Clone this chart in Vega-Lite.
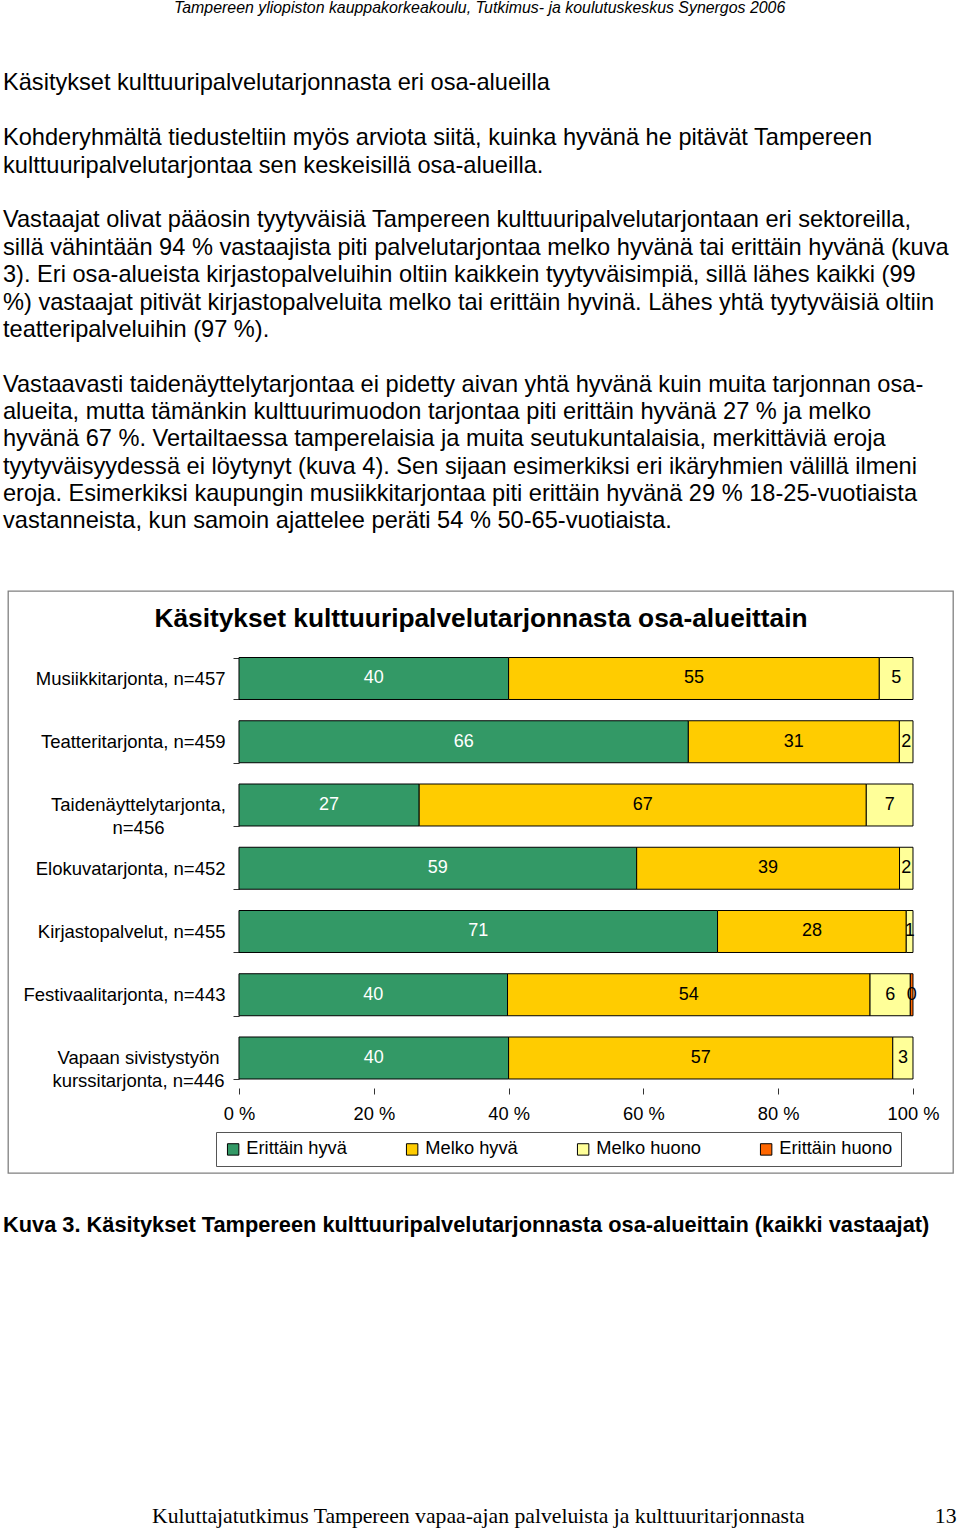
{
  "$schema": "https://vega.github.io/schema/vega-lite/v6.json",
  "padding": {"left": 2, "top": 0, "right": 0, "bottom": 0},
  "background": "white",
  "title": {
    "text": "Tampereen yliopiston kauppakorkeakoulu, Tutkimus- ja koulutuskeskus Synergos 2006",
    "font": "Liberation Sans",
    "fontStyle": "italic",
    "fontWeight": "normal",
    "fontSize": 15.9,
    "color": "black",
    "anchor": "middle",
    "frame": "bounds",
    "offset": 54
  },
  "spacing": 41,
  "vconcat": [
    {
      "width": 945,
      "height": 582,
      "title": {
        "text": "Käsitykset kulttuuripalvelutarjonnasta eri osa-alueilla",
        "subtitle": [
          "Kohderyhmältä tiedusteltiin myös arviota siitä, kuinka hyvänä he pitävät Tampereen",
          "kulttuuripalvelutarjontaa sen keskeisillä osa-alueilla.",
          "\u2800",
          "Vastaajat olivat pääosin tyytyväisiä Tampereen kulttuuripalvelutarjontaan eri sektoreilla,",
          "sillä vähintään 94 % vastaajista piti palvelutarjontaa melko hyvänä tai erittäin hyvänä (kuva",
          "3). Eri osa-alueista kirjastopalveluihin oltiin kaikkein tyytyväisimpiä, sillä lähes kaikki (99",
          "%) vastaajat pitivät kirjastopalveluita melko tai erittäin hyvinä. Lähes yhtä tyytyväisiä oltiin",
          "teatteripalveluihin (97 %).",
          "\u2800",
          "Vastaavasti taidenäyttelytarjontaa ei pidetty aivan yhtä hyvänä kuin muita tarjonnan osa-",
          "alueita, mutta tämänkin kulttuurimuodon tarjontaa piti erittäin hyvänä 27 % ja melko",
          "hyvänä 67 %. Vertailtaessa tamperelaisia ja muita seutukuntalaisia, merkittäviä eroja",
          "tyytyväisyydessä ei löytynyt (kuva 4). Sen sijaan esimerkiksi eri ikäryhmien välillä ilmeni",
          "eroja. Esimerkiksi kaupungin musiikkitarjontaa piti erittäin hyvänä 29 % 18-25-vuotiaista",
          "vastanneista, kun samoin ajattelee peräti 54 % 50-65-vuotiaista."
        ],
        "anchor": "start",
        "frame": "group",
        "dx": -5,
        "font": "Liberation Sans",
        "fontSize": 23.6,
        "fontWeight": "normal",
        "color": "black",
        "subtitleFont": "Liberation Sans",
        "subtitleFontSize": 23.6,
        "subtitleColor": "black",
        "subtitleLineHeight": 27.36,
        "subtitlePadding": 32,
        "offset": 49
      },
      "data": {
        "values": [
          {"alue": "Musiikkitarjonta, n=457", "luokka": "Erittäin hyvä", "k": 1, "pct": 40},
          {"alue": "Musiikkitarjonta, n=457", "luokka": "Melko hyvä", "k": 2, "pct": 55},
          {"alue": "Musiikkitarjonta, n=457", "luokka": "Melko huono", "k": 3, "pct": 5},
          {"alue": "Teatteritarjonta, n=459", "luokka": "Erittäin hyvä", "k": 1, "pct": 66},
          {"alue": "Teatteritarjonta, n=459", "luokka": "Melko hyvä", "k": 2, "pct": 31},
          {"alue": "Teatteritarjonta, n=459", "luokka": "Melko huono", "k": 3, "pct": 2},
          {"alue": "Taidenäyttelytarjonta, n=456", "luokka": "Erittäin hyvä", "k": 1, "pct": 27},
          {"alue": "Taidenäyttelytarjonta, n=456", "luokka": "Melko hyvä", "k": 2, "pct": 67},
          {"alue": "Taidenäyttelytarjonta, n=456", "luokka": "Melko huono", "k": 3, "pct": 7},
          {"alue": "Elokuvatarjonta, n=452", "luokka": "Erittäin hyvä", "k": 1, "pct": 59},
          {"alue": "Elokuvatarjonta, n=452", "luokka": "Melko hyvä", "k": 2, "pct": 39},
          {"alue": "Elokuvatarjonta, n=452", "luokka": "Melko huono", "k": 3, "pct": 2},
          {"alue": "Kirjastopalvelut, n=455", "luokka": "Erittäin hyvä", "k": 1, "pct": 71},
          {"alue": "Kirjastopalvelut, n=455", "luokka": "Melko hyvä", "k": 2, "pct": 28},
          {"alue": "Kirjastopalvelut, n=455", "luokka": "Melko huono", "k": 3, "pct": 1},
          {"alue": "Festivaalitarjonta, n=443", "luokka": "Erittäin hyvä", "k": 1, "pct": 40},
          {"alue": "Festivaalitarjonta, n=443", "luokka": "Melko hyvä", "k": 2, "pct": 54},
          {"alue": "Festivaalitarjonta, n=443", "luokka": "Melko huono", "k": 3, "pct": 6},
          {"alue": "Festivaalitarjonta, n=443", "luokka": "Erittäin huono", "k": 4, "pct": 0.4},
          {"alue": "Vapaan sivistystyön kurssitarjonta, n=446", "luokka": "Erittäin hyvä", "k": 1, "pct": 40},
          {"alue": "Vapaan sivistystyön kurssitarjonta, n=446", "luokka": "Melko hyvä", "k": 2, "pct": 57},
          {"alue": "Vapaan sivistystyön kurssitarjonta, n=446", "luokka": "Melko huono", "k": 3, "pct": 3}
        ]
      },
      "encoding": {
        "y": {
          "field": "alue",
          "type": "nominal",
          "sort": null,
          "scale": {
            "domain": ["\u00a0", "Musiikkitarjonta, n=457", "Teatteritarjonta, n=459", "Taidenäyttelytarjonta, n=456", "Elokuvatarjonta, n=452", "Kirjastopalvelut, n=455", "Festivaalitarjonta, n=443", "Vapaan sivistystyön kurssitarjonta, n=446", "\u00a0\u00a0"],
            "paddingInner": 0.336,
            "paddingOuter": 0.2688,
            "align": 0.0956,
            "round": false
          },
          "axis": {
            "orient": "left",
            "offset": -231,
            "values": ["Musiikkitarjonta, n=457", "Teatteritarjonta, n=459", "Taidenäyttelytarjonta, n=456", "Elokuvatarjonta, n=452", "Kirjastopalvelut, n=455", "Festivaalitarjonta, n=443", "Vapaan sivistystyön kurssitarjonta, n=446"],
            "title": null,
            "domain": false,
            "grid": false,
            "tickBand": "extent",
            "tickSize": 6,
            "tickColor": "#333",
            "labelFont": "Liberation Sans",
            "labelFontSize": 18.5,
            "labelColor": "black",
            "labelLimit": 400,
            "labelLineHeight": 23,
            "labelExpr": "datum.value == 'Taidenäyttelytarjonta, n=456' ? ['Taidenäyttelytarjonta,', 'n=456'] : datum.value == 'Vapaan sivistystyön kurssitarjonta, n=446' ? ['Vapaan sivistystyön', 'kurssitarjonta, n=446'] : datum.label",
            "labelAlign": {"condition": {"test": "datum.value == 'Taidenäyttelytarjonta, n=456' || datum.value == 'Vapaan sivistystyön kurssitarjonta, n=446'", "value": "center"}, "value": "right"},
            "labelPadding": {"condition": {"test": "datum.value == 'Taidenäyttelytarjonta, n=456' || datum.value == 'Vapaan sivistystyön kurssitarjonta, n=446'", "value": 95}, "value": 8}
          }
        }
      },
      "layer": [
        {
          "mark": {"type": "bar", "stroke": "black", "strokeWidth": 1},
          "encoding": {
            "x": {
              "field": "pct",
              "type": "quantitative",
              "stack": "normalize",
              "scale": {"domain": [-0.34273, 1.05935], "nice": false, "zero": false},
              "axis": {
                "orient": "bottom",
                "offset": -85,
                "values": [0, 0.2, 0.4, 0.6, 0.8, 1],
                "labelExpr": "round(datum.value * 100) + ' %'",
                "title": null,
                "domain": false,
                "grid": false,
                "tickSize": 6,
                "tickColor": "#333",
                "labelFont": "Liberation Sans",
                "labelFontSize": 18.3,
                "labelColor": "black",
                "labelPadding": 11,
                "labelOverlap": false,
                "labelFlush": false
              }
            },
            "color": {
              "field": "luokka",
              "type": "nominal",
              "scale": {
                "domain": ["Erittäin hyvä", "Melko hyvä", "Melko huono", "Erittäin huono"],
                "range": ["#339966", "#ffcc00", "#ffff99", "#ff6600"]
              },
              "legend": {
                "orient": "none",
                "legendX": 208,
                "legendY": 541,
                "direction": "horizontal",
                "title": null,
                "symbolType": "square",
                "symbolSize": 130,
                "symbolStrokeColor": "black",
                "symbolStrokeWidth": 1,
                "labelFont": "Liberation Sans",
                "labelFontSize": 18.3,
                "labelColor": "black",
                "labelOffset": 4,
                "columnPadding": 56,
                "padding": 8,
                "strokeColor": "#555"
              }
            },
            "order": {"field": "k", "type": "quantitative"}
          }
        },
        {
          "mark": {"type": "text", "font": "Liberation Sans", "fontSize": 18, "baseline": "middle", "align": "center"},
          "encoding": {
            "x": {
              "field": "pct",
              "type": "quantitative",
              "stack": "normalize",
              "bandPosition": 0.5,
              "axis": {
                "orient": "top",
                "title": "Käsitykset kulttuuripalvelutarjonnasta osa-alueittain",
                "titleFont": "Liberation Sans",
                "titleFontSize": 26.3,
                "titleFontWeight": "bold",
                "titleColor": "black",
                "titleAnchor": "middle",
                "titleBaseline": "alphabetic",
                "titleY": 35,
                "labels": false,
                "ticks": false,
                "domain": false,
                "grid": false
              }
            },
            "detail": {"field": "luokka"},
            "order": {"field": "k", "type": "quantitative"},
            "text": {"field": "pct", "type": "quantitative", "format": ".0f"},
            "color": {"condition": {"test": "datum.luokka == 'Erittäin hyvä'", "value": "white"}, "value": "black"}
          }
        }
      ],
      "resolve": {"axis": {"x": "independent"}}
    },
    {
      "width": 945,
      "height": 228,
      "data": {"values": []},
      "mark": "point",
      "encoding": {},
      "view": {"stroke": null},
      "title": {
        "text": "Kuva 3. Käsitykset Tampereen kulttuuripalvelutarjonnasta osa-alueittain (kaikki vastaajat)",
        "anchor": "start",
        "frame": "group",
        "dx": -5,
        "font": "Liberation Sans",
        "fontSize": 21.8,
        "fontWeight": "bold",
        "color": "black",
        "offset": 0
      }
    },
    {
      "width": 945,
      "height": 1,
      "data": {"values": []},
      "mark": "point",
      "encoding": {},
      "view": {"stroke": null},
      "title": {
        "text": "Kuluttajatutkimus Tampereen vapaa-ajan palveluista ja kulttuuritarjonnasta\u00a0\u00a0\u00a0\u00a0\u00a0\u00a0\u00a0\u00a0\u00a0\u00a0\u00a0\u00a0\u00a0\u00a0\u00a0\u00a0\u00a0\u00a0\u00a0\u00a0\u00a0\u00a0\u00a0\u00a013",
        "anchor": "start",
        "frame": "group",
        "dx": 144,
        "font": "Liberation Serif",
        "fontSize": 21.7,
        "fontWeight": "normal",
        "color": "black",
        "offset": 0
      }
    }
  ],
  "config": {
    "font": "Liberation Sans",
    "view": {"stroke": "#808080", "strokeWidth": 1.3}
  }
}
